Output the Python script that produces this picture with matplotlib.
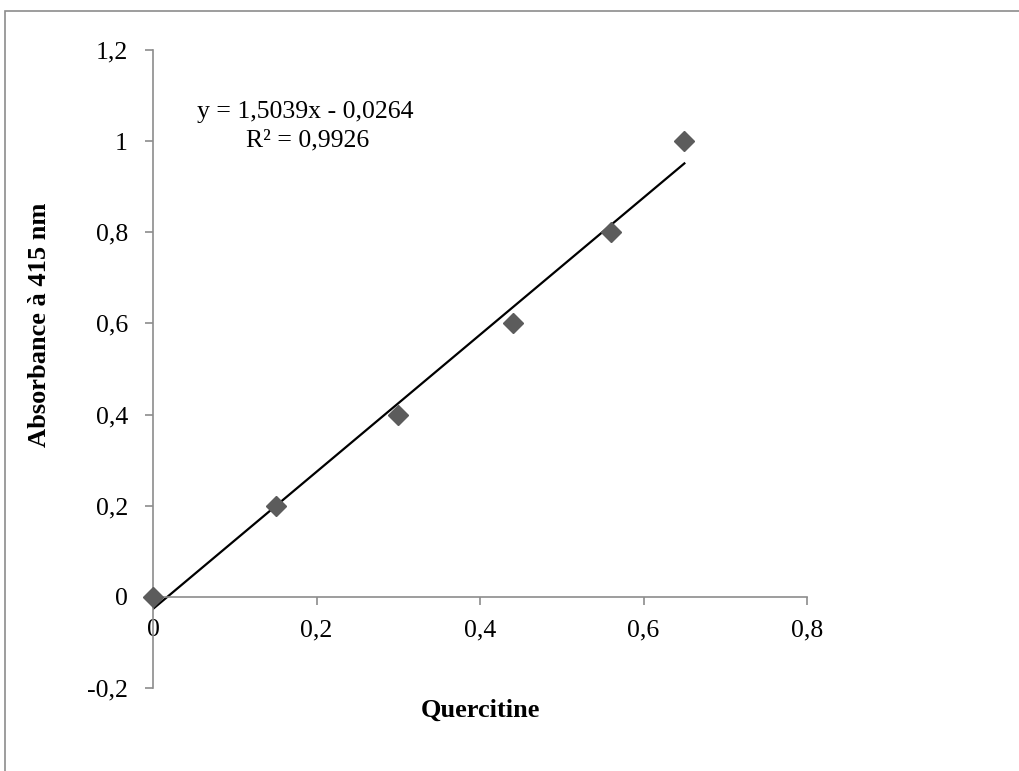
import matplotlib
matplotlib.use("Agg")
import matplotlib.pyplot as plt
import numpy as np
from matplotlib.ticker import FuncFormatter

plt.rcParams['font.family'] = ['Liberation Serif', 'DejaVu Serif']

quercitine = [0, 0.15, 0.30, 0.44, 0.56, 0.65]
absorbance = [0, 0.2, 0.4, 0.6, 0.8, 1.0]
slope = 1.5039
intercept = -0.0264
r2 = 0.9926
x_ticks = [0, 0.2, 0.4, 0.6, 0.8]
y_ticks = [-0.2, 0, 0.2, 0.4, 0.6, 0.8, 1.0, 1.2]

fig = plt.figure(figsize=(10.2, 7.71), dpi=100)
# outer chart border (Excel chart area)
border = plt.Rectangle((5/1020, -0.1), 1.2, (771-11)/771 + 0.1, transform=fig.transFigure,
                       fill=False, edgecolor='#8c8c8c', linewidth=1.2)
fig.patches.append(border)

ax = fig.add_axes([153/1020, (771-688)/771, (807-153)/1020, (688-50)/771])
ax.set_xlim(0, 0.8)
ax.set_ylim(-0.2, 1.2)

for s in ['top', 'right']:
    ax.spines[s].set_visible(False)
ax.spines['left'].set_position(('data', 0))
ax.spines['bottom'].set_position(('data', 0))
for s in ['left', 'bottom']:
    ax.spines[s].set_color('#8c8c8c')
    ax.spines[s].set_linewidth(1.2)

def fmt(v, pos):
    s = ('%.1f' % v).rstrip('0').rstrip('.')
    if s == '-0':
        s = '0'
    return s.replace('.', ',')

ax.set_xticks(x_ticks)
ax.set_yticks(y_ticks)
ax.xaxis.set_major_formatter(FuncFormatter(fmt))
ax.yaxis.set_major_formatter(FuncFormatter(fmt))
ax.tick_params(axis='both', direction='out', length=6, width=1.2, color='#8c8c8c',
               labelsize=18.5, labelcolor='black')
ax.tick_params(axis='y', pad=12)
ax.tick_params(axis='x', pad=10)

eq_text = 'y = 1,5039x - 0,0264'
r2_text = 'R² = 0,9926'

xs = np.array([0, max(quercitine)])
ax.plot(xs, slope * xs + intercept, color='black', linewidth=1.6, zorder=2)
ax.plot(quercitine, absorbance, linestyle='none', marker='D', markersize=10.5,
        color='#5c5c5c', zorder=3, clip_on=False)

ax.text(0.186, 1.065, eq_text, ha='center', va='center', fontsize=18.5)
ax.text(0.189, 1.001, r2_text, ha='center', va='center', fontsize=18.5)

fig.text(40/1020, 1 - 325/771, 'Absorbance à 415 nm', rotation=90, ha='center', va='center',
         fontsize=19, fontweight='bold')
fig.text(480/1020, 1 - 710/771, 'Quercitine', ha='center', va='center',
         fontsize=19, fontweight='bold')

fig.savefig('out.png', dpi=100)
